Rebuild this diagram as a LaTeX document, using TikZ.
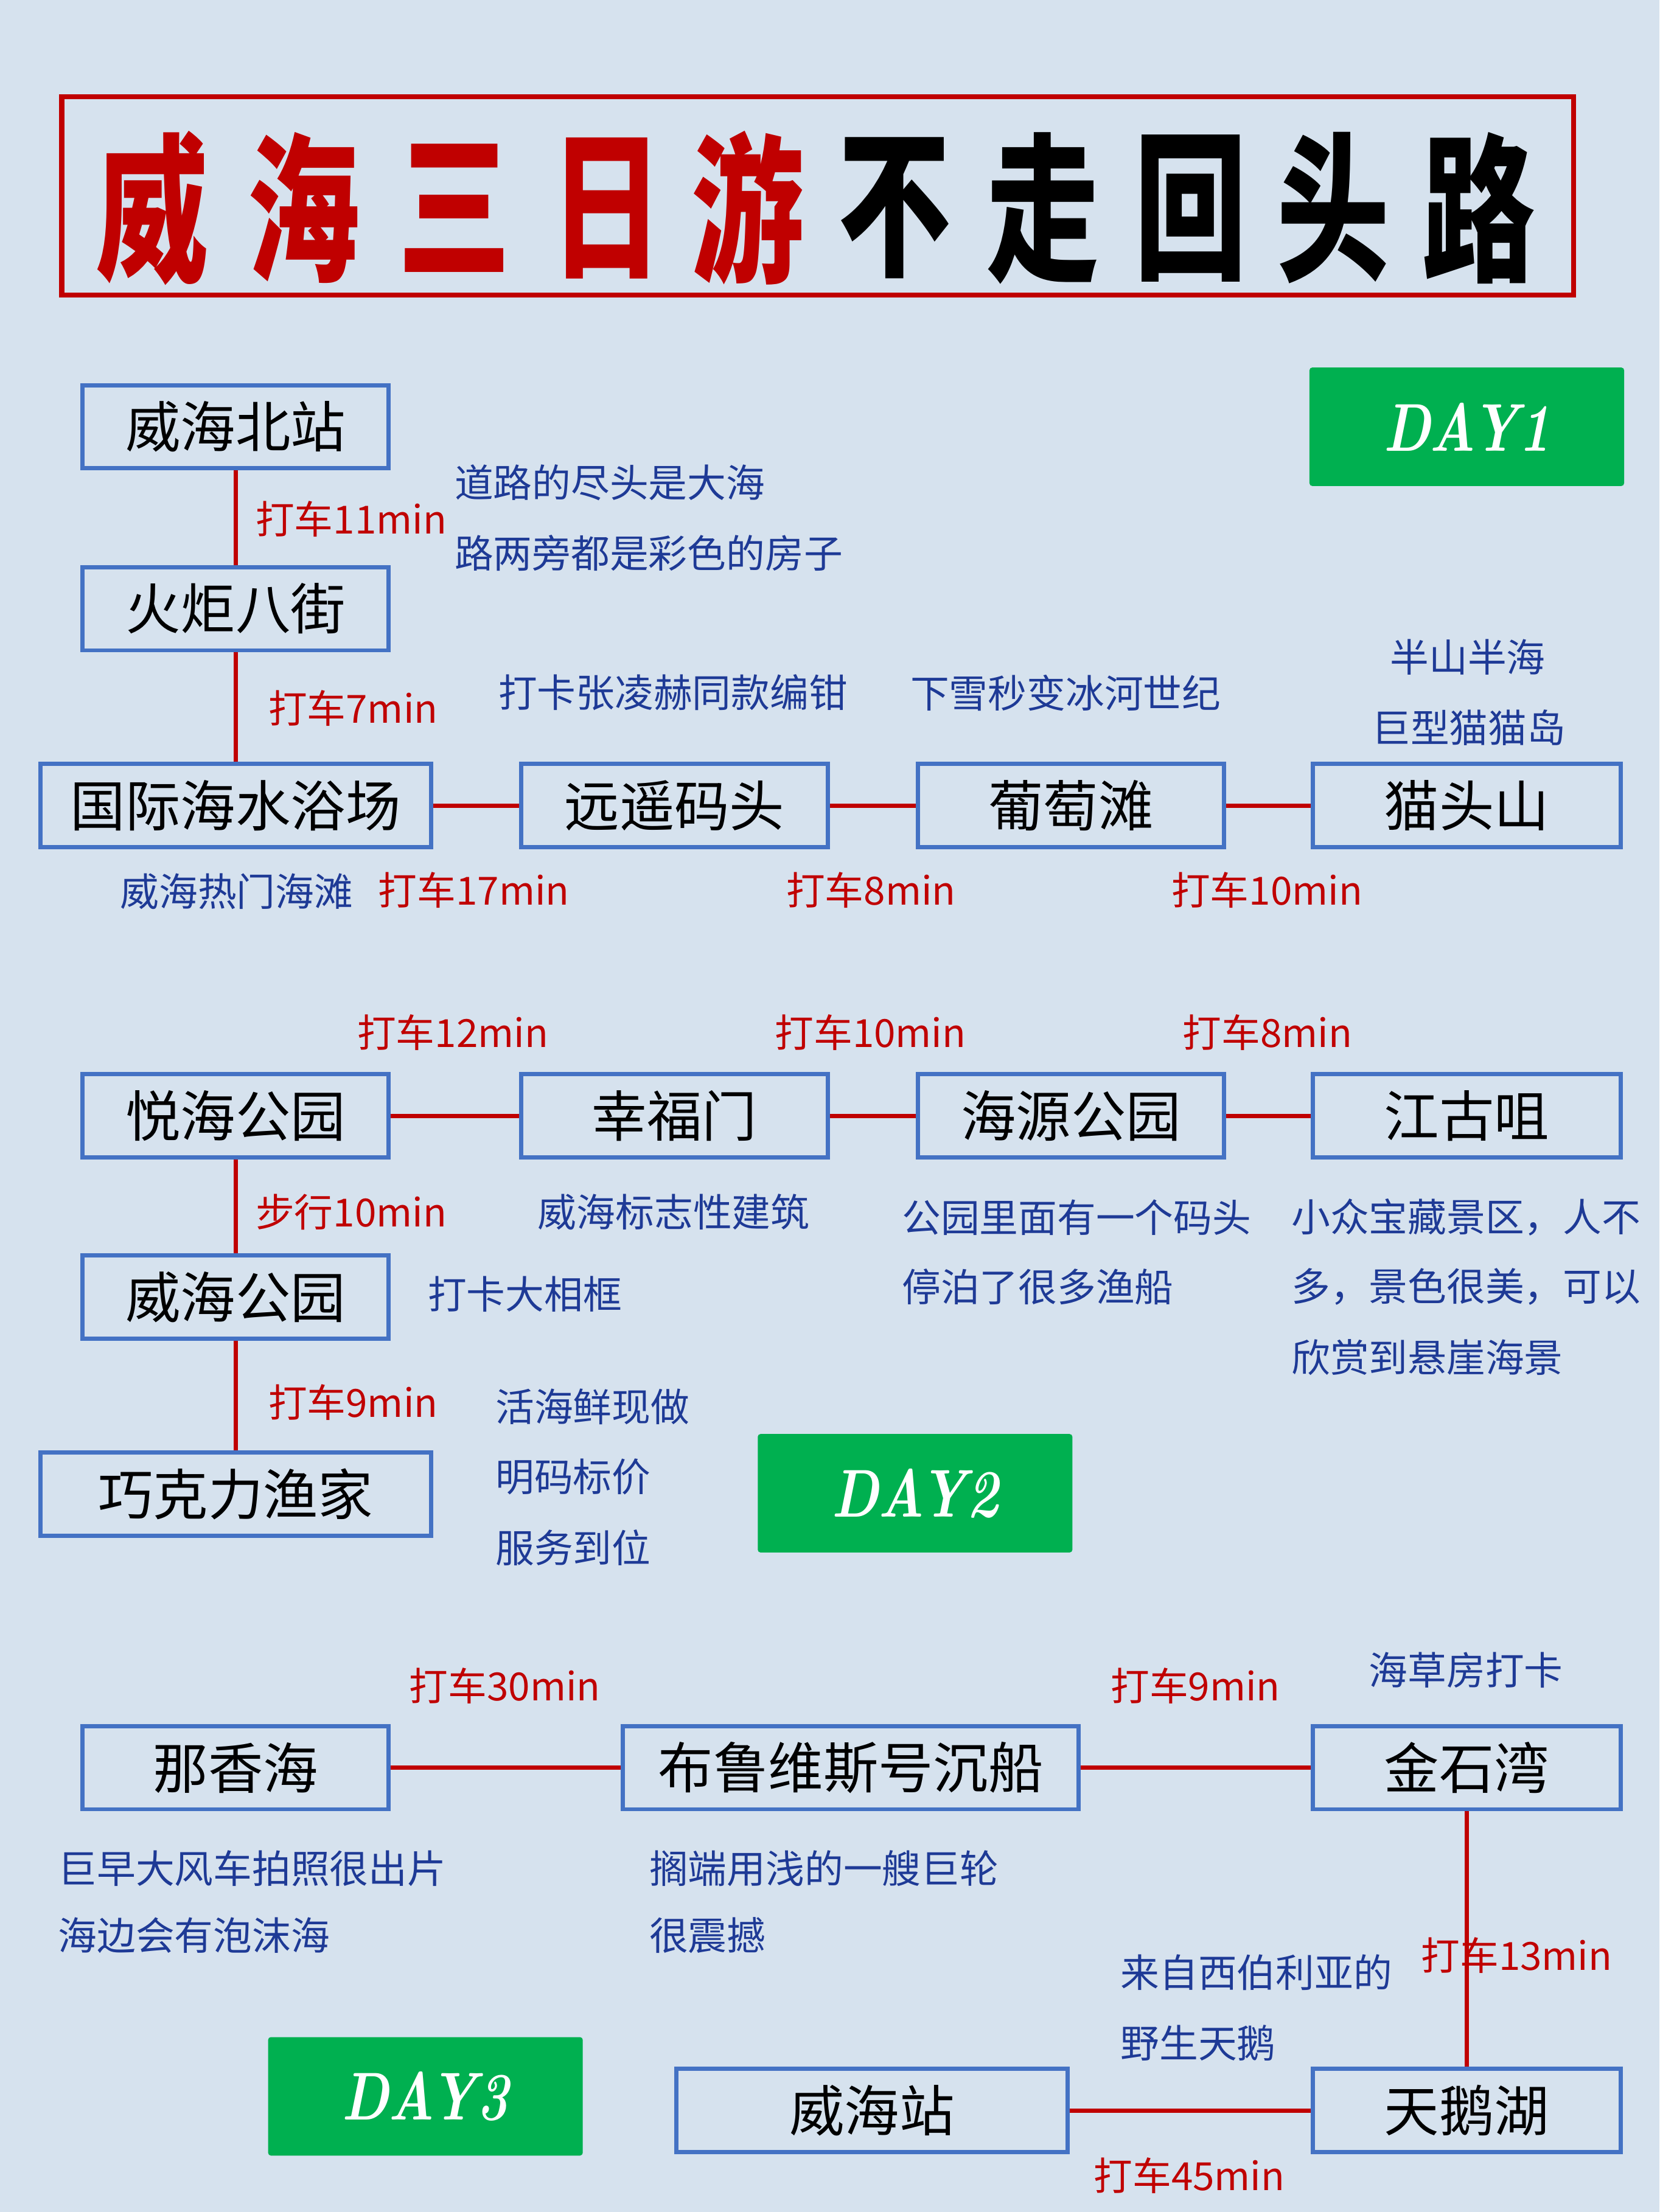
\documentclass[tikz,border=0pt]{standalone}
\usepackage{fontspec}
\newfontfamily\cjk{Noto Sans CJK SC}
\definecolor{bg}{RGB}{214,226,238}
\definecolor{tred}{RGB}{192,0,0}
\definecolor{bblue}{RGB}{68,114,196}
\definecolor{dblue}{RGB}{30,58,150}
\definecolor{dgreen}{RGB}{0,176,80}
\begin{document}
\begin{tikzpicture}[x=1pt,y=-1pt,
  place/.style={draw=bblue, line width=3pt, minimum height=59pt, inner sep=0pt, text=black, font=\cjk\fontsize{39}{39}\selectfont},
  link/.style={draw=tred, line width=3pt},
  lbl/.style={anchor=west, inner sep=0pt, text=tred, font=\cjk\fontsize{27.5}{27.5}\selectfont},
  note/.style={anchor=west, inner sep=0pt, text=dblue, font=\cjk\fontsize{27.5}{27.5}\selectfont},
  daybadge/.style={fill=dgreen, rounded corners=2pt, minimum width=223pt, minimum height=84pt, inner sep=0pt, text=white, font=\bfseries\itshape\fontsize{48}{48}\selectfont},
  tch/.style={inner sep=0pt, font=\cjk\bfseries\fontsize{84}{84}\selectfont}
]
\fill[bg] (0,0) rectangle (1176,1568);
\useasboundingbox (0,0) rectangle (1176,1568);

% title
\node[draw=tred, line width=3.5pt, minimum width=1071.5pt, minimum height=140.5pt, inner sep=0pt] (title) at (579.5,139) {};
\node[tch, text=tred] (t1) at (108,147.5) {\scalebox{0.95}[1.35]{威}};
\node[tch, text=tred] (t2) at (215,147.5) {\scalebox{0.95}[1.35]{海}};
\node[tch, text=tred] (t3) at (322,147.5) {\scalebox{0.95}[1.35]{三}};
\node[tch, text=tred] (t4) at (430,147.5) {\scalebox{0.95}[1.35]{日}};
\node[tch, text=tred] (t5) at (530,147.5) {\scalebox{0.95}[1.35]{游}};
\node[tch, text=black] (t6) at (634,147.5) {\scalebox{0.95}[1.35]{不}};
\node[tch, text=black] (t7) at (739,147.5) {\scalebox{0.95}[1.35]{走}};
\node[tch, text=black] (t8) at (844,147.5) {\scalebox{0.95}[1.35]{回}};
\node[tch, text=black] (t9) at (945,147.5) {\scalebox{0.95}[1.35]{头}};
\node[tch, text=black] (t10) at (1048,147.5) {\scalebox{0.95}[1.35]{路}};

% badges
\node[daybadge] (d1) at (1039.5,302.5) {\scalebox{0.8}[1]{DAY1}};
\node[daybadge] (d2) at (648.5,1058.5) {\scalebox{0.8}[1]{DAY2}};
\node[daybadge] (d3) at (301.5,1486) {\scalebox{0.8}[1]{DAY3}};

% day 1
\node[place, minimum width=217pt] (n1) at (167,302.5) {威海北站};
\node[place, minimum width=217pt] (n2) at (167,431.5) {火炬八街};
\node[place, minimum width=277pt] (n3) at (167,571) {国际海水浴场};
\node[place, minimum width=217pt] (n4) at (478,571) {远遥码头};
\node[place, minimum width=217pt] (n5) at (759,571) {葡萄滩};
\node[place, minimum width=218pt] (n6) at (1039.5,571) {猫头山};
\draw[link] (n1) -- (n2);
\draw[link] (n2) -- (n3);
\draw[link] (n3) -- (n4);
\draw[link] (n4) -- (n5);
\draw[link] (n5) -- (n6);
\node[lbl] (l1) at (181,368) {打车11min};
\node[note] (a1) at (322,342) {道路的尽头是大海};
\node[note] (a2) at (322,392) {路两旁都是彩色的房子};
\node[lbl] (l2) at (190,502) {打车7min};
\node[note] (a3) at (353,491) {打卡张凌赫同款编钳};
\node[note] (a4) at (645,491) {下雪秒变冰河世纪};
\node[note] (a5) at (985,466) {半山半海};
\node[note] (a6) at (972,516) {巨型猫猫岛};
\node[note] (a7) at (85,632) {威海热门海滩};
\node[lbl] (l3) at (268,631) {打车17min};
\node[lbl] (l4) at (557,631) {打车8min};
\node[lbl] (l5) at (830,631) {打车10min};

% day 2
\node[place, minimum width=217pt] (m1) at (167,791) {悦海公园};
\node[place, minimum width=217pt] (m2) at (478,791) {幸福门};
\node[place, minimum width=217pt] (m3) at (759,791) {海源公园};
\node[place, minimum width=218pt] (m4) at (1039.5,791) {江古咀};
\node[place, minimum width=217pt] (m5) at (167,919.5) {威海公园};
\node[place, minimum width=277pt] (m6) at (167,1059) {巧克力渔家};
\draw[link] (m1) -- (m2);
\draw[link] (m2) -- (m3);
\draw[link] (m3) -- (m4);
\draw[link] (m1) -- (m5);
\draw[link] (m5) -- (m6);
\node[lbl] (l6) at (253,732) {打车12min};
\node[lbl] (l7) at (549,732) {打车10min};
\node[lbl] (l8) at (838,732) {打车8min};
\node[lbl] (l9) at (181,859) {步行10min};
\node[note] (b1) at (381,859) {威海标志性建筑};
\node[note] (b2) at (639,863) {公园里面有一个码头};
\node[note] (b3) at (639,912) {停泊了很多渔船};
\node[note] (b4) at (915,863) {小众宝藏景区，人不};
\node[note] (b5) at (915,912) {多，景色很美，可以};
\node[note] (b6) at (915,962) {欣赏到悬崖海景};
\node[note] (b7) at (303,917.5) {打卡大相框};
\node[lbl] (l10) at (190,994) {打车9min};
\node[note] (b8) at (351,997) {活海鲜现做};
\node[note] (b9) at (351,1047) {明码标价};
\node[note] (b10) at (351,1097) {服务到位};

% day 3
\node[place, minimum width=217pt] (k1) at (167,1253) {那香海};
\node[place, minimum width=323pt] (k2) at (603,1253) {布鲁维斯号沉船};
\node[place, minimum width=218pt] (k3) at (1039.5,1253) {金石湾};
\node[place, minimum width=218pt] (k4) at (1039.5,1496) {天鹅湖};
\node[place, minimum width=277pt] (k5) at (618,1496) {威海站};
\draw[link] (k1) -- (k2);
\draw[link] (k2) -- (k3);
\draw[link] (k3) -- (k4);
\draw[link] (k4) -- (k5);
\node[lbl] (l11) at (290,1195) {打车30min};
\node[lbl] (l12) at (787,1195) {打车9min};
\node[note] (c1) at (970,1184) {海草房打卡};
\node[note] (c2) at (41,1324.5) {巨早大风车拍照很出片};
\node[note] (c3) at (41,1372) {海边会有泡沫海};
\node[note] (c4) at (460,1324.5) {搁端用浅的一艘巨轮};
\node[note] (c5) at (460,1372) {很震撼};
\node[note] (c6) at (794,1398) {来自西伯利亚的};
\node[note] (c7) at (794,1448) {野生天鹅};
\node[lbl] (l13) at (1007,1386) {打车13min};
\node[lbl] (l14) at (775,1542) {打车45min};
\end{tikzpicture}
\end{document}
